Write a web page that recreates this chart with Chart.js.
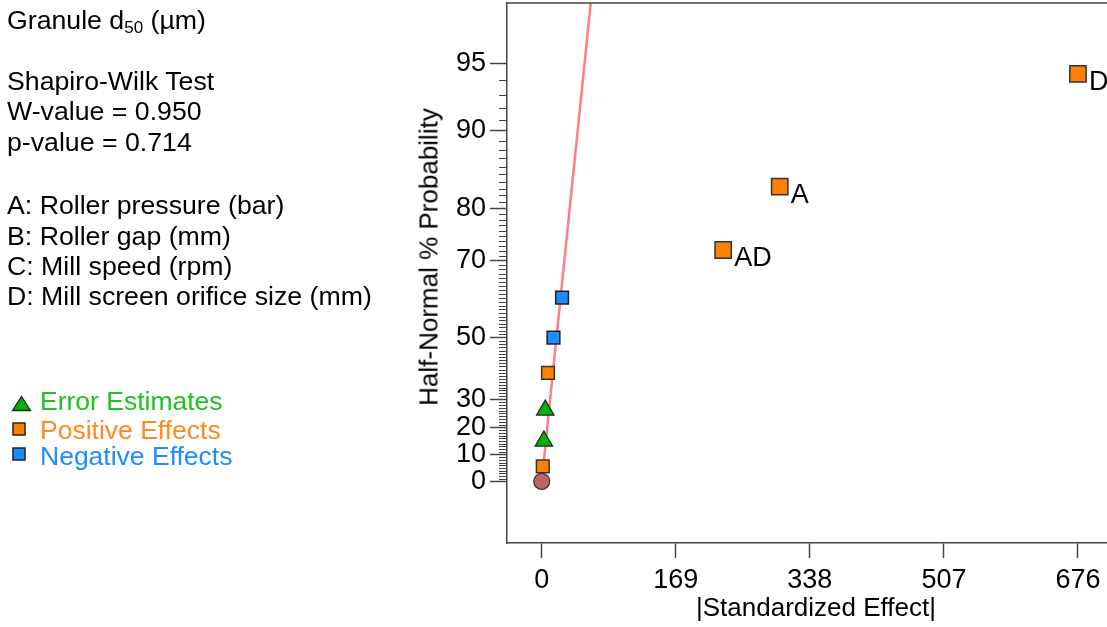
<!DOCTYPE html>
<html>
<head>
<meta charset="utf-8">
<script src="https://cdn.jsdelivr.net/npm/chart.js@4/dist/chart.umd.min.js"></script>
<style>
body { margin: 0; background: #fff; overflow: hidden; }
#wrap { position: relative; width: 1107px; height: 627px; overflow: hidden; font-family: "Liberation Sans", Arial, sans-serif; }
#chart { position: absolute; left: 0; top: 0; }
.txt { position: absolute; left: 7px; font-size: 26.7px; line-height: 30px; white-space: nowrap; color: #000; }
.txt sub { font-size: 17px; line-height: 0; vertical-align: -4px; }
.leg { position: absolute; left: 40px; font-size: 26.5px; line-height: 30px; white-space: nowrap; }
.sym { position: absolute; }
#ytitle { position: absolute; left: 429px; top: 257px; transform: translate(-50%, -50%) rotate(-90deg); font-size: 26px; white-space: nowrap; }
</style>
</head>
<body>
<div id="wrap">
  <canvas id="chart" width="1125" height="627"></canvas>

  <div class="txt" style="top:5px">Granule d<sub>50</sub> (µm)</div>
  <div class="txt" style="top:66px">Shapiro-Wilk Test</div>
  <div class="txt" style="top:96px">W-value = 0.950</div>
  <div class="txt" style="top:127px">p-value = 0.714</div>
  <div class="txt" style="top:190px">A: Roller pressure (bar)</div>
  <div class="txt" style="top:221px">B: Roller gap (mm)</div>
  <div class="txt" style="top:251px">C: Mill speed (rpm)</div>
  <div class="txt" style="top:281px">D: Mill screen orifice size (mm)</div>

  <svg class="sym" style="left:11px;top:395px" width="21" height="17"><polygon points="1.5,15.5 10.5,1.5 19.5,15.5" fill="#00b400" stroke="#222" stroke-width="1.3"/></svg>
  <svg class="sym" style="left:12px;top:422px" width="14" height="14"><rect x="1" y="1" width="12" height="12" fill="#ff8000" stroke="#222" stroke-width="1.5"/></svg>
  <svg class="sym" style="left:12px;top:447px" width="14" height="14"><rect x="1" y="1" width="12" height="12" fill="#1a8cff" stroke="#222" stroke-width="1.5"/></svg>
  <div class="leg" style="top:386px;color:#1ec31e">Error Estimates</div>
  <div class="leg" style="top:415px;color:#ff8a1e">Positive Effects</div>
  <div class="leg" style="top:441px;color:#1e8cff">Negative Effects</div>

  <div id="ytitle">Half-Normal % Probability</div>
</div>

<script>
// |standardized effect| and half-normal % probability
var errorEffect = [4.5, 2.7];
var errorProb = [26.2, 15.0];

var positiveEffect = [676, 300, 228.7, 7.9, 1.3];
var positiveProb = [94.4, 83.3, 72.2, 38.9, 5.6];
var positiveNames = ["D", "A", "AD", "", ""];
var positiveSize = [11.5, 11.5, 11.5, 9, 9];

var negativeEffect = [25.6, 14.8];
var negativeProb = [61.1, 50];

var originEffect = [0];
var originProb = [0];

var fitEffect = [0, 77.3];
var fitProb = [0, 99.5];

var probTicks = [0, 10, 20, 30, 50, 70, 80, 90, 95];
var effectTicks = [0, 169, 338, 507, 676];

var FONT = '"Liberation Sans", Arial, sans-serif';

// inverse normal cdf (Acklam)
function invNorm(p)
{
	var a = [-3.969683028665376e+01, 2.209460984245205e+02, -2.759285104469687e+02, 1.383577518672690e+02, -3.066479806614716e+01, 2.506628277459239e+00];
	var b = [-5.447609879822406e+01, 1.615858368580409e+02, -1.556989798598866e+02, 6.680131188771972e+01, -1.328068155288572e+01];
	var c = [-7.784894002430293e-03, -3.223964580411365e-01, -2.400758277161838e+00, -2.549671010173205e+00, 4.374664141464968e+00, 2.938163982698783e+00];
	var d = [7.784695709041462e-03, 3.224671290700398e-01, 2.445134137142996e+00, 3.754408661907416e+00];
	var pl = 0.02425, q, r;

	if (p < pl) {
		q = Math.sqrt(-2 * Math.log(p));
		return (((((c[0]*q+c[1])*q+c[2])*q+c[3])*q+c[4])*q+c[5]) / ((((d[0]*q+d[1])*q+d[2])*q+d[3])*q+1);
	}
	if (p <= 1 - pl) {
		q = p - 0.5; r = q * q;
		return (((((a[0]*r+a[1])*r+a[2])*r+a[3])*r+a[4])*r+a[5])*q / (((((b[0]*r+b[1])*r+b[2])*r+b[3])*r+b[4])*r+1);
	}
	q = Math.sqrt(-2 * Math.log(1 - p));
	return -(((((c[0]*q+c[1])*q+c[2])*q+c[3])*q+c[4])*q+c[5]) / ((((d[0]*q+d[1])*q+d[2])*q+d[3])*q+1);
}

// half-normal probability scale -> z
function probToZ(p)
{
	return invNorm(0.5 + p / 200);
}

function toPoints(xs, ps)
{
	var pts = [];
	for (var i = 0; i < xs.length; i++) pts.push({ x: xs[i], y: probToZ(ps[i]) });
	return pts;
}

var frameAndMinor = {
	id: "frameAndMinor",
	afterDraw: function(chart) {
		var ctx = chart.ctx, area = chart.chartArea, y = chart.scales.y;
		ctx.save();
		ctx.strokeStyle = "#444";
		ctx.lineWidth = 1.5;
		ctx.beginPath();
		ctx.moveTo(area.left, area.top);
		ctx.lineTo(area.right, area.top);
		ctx.stroke();

		ctx.lineWidth = 1;
		ctx.beginPath();
		for (var p = 1; p < 95; p++) {
			if (probTicks.indexOf(p) >= 0) continue;
			var py = Math.round(y.getPixelForValue(probToZ(p))) + 0.5;
			ctx.moveTo(area.left - 8, py);
			ctx.lineTo(area.left, py);
		}
		ctx.stroke();
		ctx.restore();
	}
};

var pointNames = {
	id: "pointNames",
	afterDatasetsDraw: function(chart) {
		var ctx = chart.ctx, meta = chart.getDatasetMeta(1);
		ctx.save();
		ctx.font = "27px " + FONT;
		ctx.fillStyle = "#000";
		ctx.textAlign = "left";
		ctx.textBaseline = "middle";
		for (var i = 0; i < positiveNames.length; i++) {
			if (!positiveNames[i]) continue;
			var el = meta.data[i];
			ctx.fillText(positiveNames[i], el.x + 11, el.y + 9);
		}
		ctx.restore();
	}
};

new Chart(document.getElementById("chart").getContext("2d"), {
	type: "scatter",
	data: {
		datasets: [{
			label: "Error Estimates",
			data: toPoints(errorEffect, errorProb),
			pointStyle: "triangle",
			pointRadius: 10,
			backgroundColor: "#00b400",
			borderColor: "#222",
			borderWidth: 1.3
		}, {
			label: "Positive Effects",
			data: toPoints(positiveEffect, positiveProb),
			pointStyle: "rect",
			pointRadius: positiveSize,
			backgroundColor: "#ff8000",
			borderColor: "#333",
			borderWidth: 1.5
		}, {
			label: "Negative Effects",
			data: toPoints(negativeEffect, negativeProb),
			pointStyle: "rect",
			pointRadius: 9,
			backgroundColor: "#1a8cff",
			borderColor: "#222",
			borderWidth: 1.5
		}, {
			label: "origin",
			data: toPoints(originEffect, originProb),
			pointStyle: "circle",
			pointRadius: 8,
			backgroundColor: "#c06262",
			borderColor: "#333",
			borderWidth: 1.2
		}, {
			label: "fit",
			data: toPoints(fitEffect, fitProb),
			showLine: true,
			pointRadius: 0,
			borderColor: "#ff7f7f",
			borderWidth: 2.5,
			order: 10
		}]
	},
	options: {
		responsive: false,
		animation: false,
		layout: { autoPadding: false, padding: { top: 3, left: 0, right: 0, bottom: 0 } },
		plugins: { legend: { display: false }, tooltip: { enabled: false } },
		scales: {
			x: {
				type: "linear",
				min: -43.8,
				max: 735.3,
				afterBuildTicks: function(scale) {
					scale.ticks = effectTicks.map(function(v) { return { value: v }; });
				},
				afterFit: function(scale) {
					scale.height = 84;
					scale.paddingLeft = 0;
					scale.paddingRight = 0;
				},
				grid: { drawOnChartArea: false, drawTicks: true, tickLength: 15, tickColor: "#444", tickWidth: 1.5 },
				border: { display: true, color: "#444", width: 1.5 },
				ticks: {
					autoSkip: false,
					maxRotation: 0,
					padding: 6,
					color: "#000",
					font: { family: FONT, size: 27 }
				},
				title: {
					display: true,
					text: "|Standardized Effect|",
					color: "#000",
					font: { family: FONT, size: 26 },
					padding: { top: 0, bottom: 3 }
				}
			},
			y: {
				type: "linear",
				min: -0.289,
				max: 2.243,
				afterBuildTicks: function(scale) {
					scale.ticks = probTicks.map(function(p) { return { value: probToZ(p) }; });
				},
				afterFit: function(scale) {
					scale.width = 507;
					scale.paddingTop = 0;
					scale.paddingBottom = 0;
				},
				grid: { drawOnChartArea: false, drawTicks: true, tickLength: 17, tickColor: "#444", tickWidth: 1.5 },
				border: { display: true, color: "#444", width: 1.5 },
				ticks: {
					autoSkip: false,
					padding: 4,
					color: "#000",
					font: { family: FONT, size: 27 },
					callback: function(value, index) { return probTicks[index]; }
				}
			}
		}
	},
	plugins: [frameAndMinor, pointNames]
});
</script>
</body>
</html>
